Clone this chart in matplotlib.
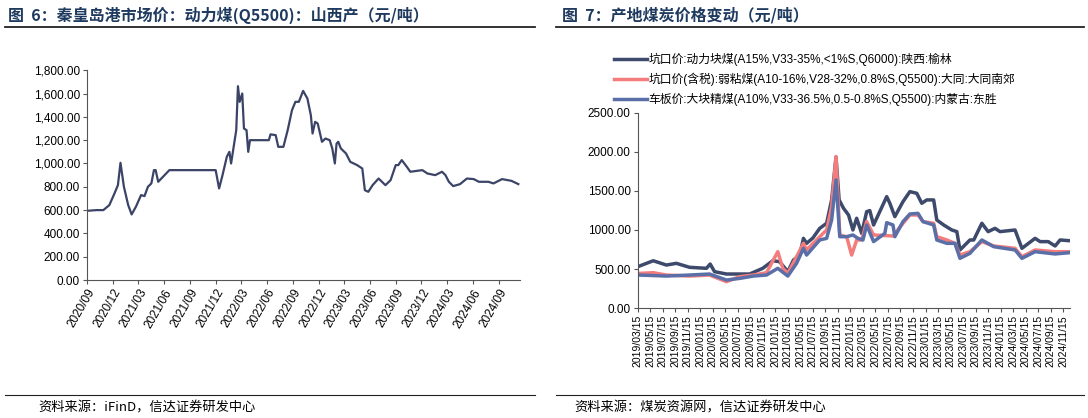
import matplotlib.pyplot as plt
from matplotlib.lines import Line2D

plt.rcParams["font.family"] = ["Liberation Sans", "Noto Sans CJK SC"]

# 左图：秦皇岛港市场价，x 为自 2020/09 起的月数
qhd_month = [0, 1.1, 1.9, 2.6, 3.2, 3.6, 3.9, 4.3, 4.8, 5.2, 5.7, 6.3, 6.7, 7.1, 7.5, 7.8, 8.0, 8.3,
             9.6, 15.0, 15.4, 15.8, 16.3, 16.6, 16.8, 17.1, 17.4, 17.6, 17.8, 18.1, 18.3, 18.6, 18.8,
             19.0, 19.3, 21.2, 21.4, 22.0, 22.3, 22.9, 23.4, 23.9, 24.3, 24.7, 25.2, 25.7, 26.1, 26.3,
             26.6, 26.9, 27.4, 27.8, 28.3, 28.6, 28.9, 29.1, 29.3, 29.6, 30.2, 30.7, 31.5, 32.1, 32.4,
             32.8, 33.3, 34.0, 34.8, 35.4, 36.0, 36.3, 36.7, 37.3, 37.7, 39.1, 39.7, 40.6, 41.4, 41.8,
             42.2, 42.7, 43.5, 44.3, 45.1, 45.7, 46.8, 47.4, 48.4, 49.5, 50.3]
qhd_price = [594, 600, 600, 643, 743, 814, 1006, 800, 643, 563, 629, 729, 720, 800, 829, 943, 943, 843,
             943, 943, 786, 900, 1057, 1100, 1000, 1143, 1286, 1663, 1529, 1600, 1300, 1286, 1100,
             1200, 1200, 1200, 1250, 1243, 1143, 1143, 1286, 1457, 1529, 1529, 1623, 1557, 1414, 1257,
             1357, 1343, 1186, 1214, 1200, 1129, 1000, 1171, 1186, 1129, 1086, 1014, 986, 957, 771,
             757, 814, 871, 814, 857, 986, 986, 1029, 971, 929, 943, 914, 900, 929, 900,
             843, 806, 823, 871, 866, 843, 843, 829, 866, 851, 823]
qhd_ticks = ["2020/09", "2020/12", "2021/03", "2021/06", "2021/09", "2021/12", "2022/03", "2022/06",
             "2022/09", "2022/12", "2023/03", "2023/06", "2023/09", "2023/12", "2024/03", "2024/06",
             "2024/09"]

# 右图：产地煤价，x 为自 2019/03/15 起的月数
yl_month = [0.3, 2.5, 4.6, 6.2, 8.3, 11, 11.6, 12.3, 14.2, 17.9, 20, 21.6, 22.7, 24, 24.9, 25.9, 26.5,
            27, 28, 29.1, 30.2, 31, 31.7, 32.2, 32.9, 33.7, 34.4, 35, 35.8, 36.6, 37.1, 37.7, 39.8,
            40.3, 41.1, 42.4, 43.5, 44.6, 45.4, 46.2, 47.3, 47.8, 48.9, 50.2, 51, 51.5, 53.1, 53.7,
            55, 56, 57.1, 57.9, 60.3, 61.4, 63.5, 64.3, 65.6, 66.7, 67.5, 69.1]
yl_price = [538, 606, 551, 573, 522, 509, 564, 466, 436, 436, 509, 606, 594, 466, 615, 679, 893,
            829, 897, 1021, 1086, 1385, 1932, 1385, 1278, 1192, 1000, 1150, 957, 1235, 1248, 1064, 1427,
            1342, 1171, 1363, 1491, 1470, 1342, 1385, 1385, 1128, 1064, 1000, 979, 744, 872, 872,
            1086, 979, 1021, 979, 1000, 765, 893, 851, 851, 795, 872, 862]
dt_month = [0.3, 2.5, 4.6, 8.3, 11.5, 14.2, 16.3, 18.5, 20.6, 22.4, 23.2, 24, 25.4, 26.5, 27, 29.1,
            30.2, 31, 31.7, 32.3, 33.4, 34.2, 35, 35.8, 36.6, 37.7, 40.8, 42.4, 43.5, 44.8, 45.6, 47.3,
            47.8, 49.4, 50.7, 51.5, 53.1, 55, 56.9, 60.3, 61.4, 63.5, 66.7, 69.1]
dt_price = [444, 453, 423, 410, 423, 338, 402, 423, 453, 722, 509, 444, 658, 829, 744, 914,
            1000, 1299, 1940, 936, 914, 679, 872, 872, 1107, 936, 923, 1086, 1192, 1192, 1107, 1086,
            914, 872, 829, 679, 722, 851, 795, 765, 658, 744, 722, 722]
ds_month = [0.3, 4.6, 8.3, 11.5, 14.2, 16.3, 18.5, 20.6, 22.4, 24, 25.4, 26.5, 27, 29.1, 30.2, 31,
            31.7, 32.3, 33.4, 34.4, 35.2, 36, 36.6, 37.7, 39.5, 39.8, 40.8, 41.1, 42.4, 43.5, 44.8,
            45.6, 47.3, 47.8, 49.4, 50.7, 51.5, 53.1, 55, 56.9, 60.3, 61.4, 63.5, 66.7, 69.1]
ds_price = [423, 410, 423, 436, 359, 380, 410, 423, 509, 410, 573, 765, 679, 872, 893, 1128,
            1641, 914, 914, 936, 893, 872, 1064, 851, 957, 1094, 1064, 914, 1107, 1205, 1213,
            1107, 1064, 872, 829, 829, 637, 701, 872, 786, 744, 637, 722, 693, 710]
src_ticks = [f"{2019 + (2 + 2 * i) // 12}/{(2 + 2 * i) % 12 + 1:02d}/15" for i in range(35)]

navy = "#3b4466"
title_c = "#1f3a5f"
fig = plt.figure(figsize=(10.88, 4.18), dpi=100)

# 标题、分隔线、来源
fig.text(0.007, 0.963, "图  6：秦皇岛港市场价：动力煤(Q5500)：山西产（元/吨）", fontsize=11.5,
         fontweight="bold", color=title_c, family="Noto Sans CJK SC", va="center")
fig.text(0.517, 0.963, "图  7：产地煤炭价格变动（元/吨）", fontsize=11.5,
         fontweight="bold", color=title_c, family="Noto Sans CJK SC", va="center")
for x0, x1 in [(0.005, 0.492), (0.511, 0.996)]:
    fig.add_artist(Line2D([x0, x1], [0.935, 0.935], color="#222222", lw=1.3))
    fig.add_artist(Line2D([x0, x1], [0.056, 0.056], color="#222222", lw=0.8))
fig.text(0.035, 0.025, "资料来源：iFinD，信达证券研发中心", fontsize=9.5, style="italic",
         family="Noto Sans CJK SC", va="center")
fig.text(0.528, 0.025, "资料来源：煤炭资源网，信达证券研发中心", fontsize=9.5, style="italic",
         family="Noto Sans CJK SC", va="center")

# 左图
ax = fig.add_axes([0.080, 0.330, 0.398, 0.502])
ax.plot(qhd_month, qhd_price, color=navy, lw=1.6)
ax.set_ylim(0, 1800)
ax.set_xlim(0, 50.5)
ax.set_yticks(range(0, 1801, 200))
ax.set_yticklabels([f"{v:,.2f}" for v in range(0, 1801, 200)], fontsize=8.5)
ax.set_xticks(range(0, 49, 3))
ax.set_xticklabels(qhd_ticks, rotation=60, ha="right", rotation_mode="anchor", fontsize=8.5)

# 右图
ax2 = fig.add_axes([0.586, 0.263, 0.397, 0.467])
ax2.plot(yl_month, yl_price, color="#3d4a6b", lw=2.5,
         label="坑口价:动力块煤(A15%,V33-35%,<1%S,Q6000):陕西:榆林")
ax2.plot(dt_month, dt_price, color="#f47c7c", lw=2.5,
         label="坑口价(含税):弱粘煤(A10-16%,V28-32%,0.8%S,Q5500):大同:大同南郊")
ax2.plot(ds_month, ds_price, color="#5a6fa8", lw=2.5,
         label="车板价:大块精煤(A10%,V33-36.5%,0.5-0.8%S,Q5500):内蒙古:东胜")
ax2.set_ylim(0, 2500)
ax2.set_xlim(0, 69)
ax2.set_yticks(range(0, 2501, 500))
ax2.set_yticklabels([f"{v:.2f}" for v in range(0, 2501, 500)], fontsize=8.5)
ax2.set_xticks(range(0, 70, 2))
ax2.set_xticklabels(src_ticks, rotation=90, fontsize=7.5)
ax2.legend(loc="lower left", bbox_to_anchor=(-0.07, 1.0), frameon=False, fontsize=8.5,
           handlelength=2.8, handletextpad=0.1, labelspacing=0.55, borderaxespad=0.2,
           prop={"family": ["Liberation Sans", "Noto Sans CJK SC"], "size": 8.5})

for a in (ax, ax2):
    a.spines["top"].set_visible(False)
    a.spines["right"].set_visible(False)
    a.spines["left"].set_color("#555555")
    a.spines["bottom"].set_color("#555555")
    a.tick_params(length=3, color="#555555", pad=2)

fig.savefig("out.png", dpi=100)
